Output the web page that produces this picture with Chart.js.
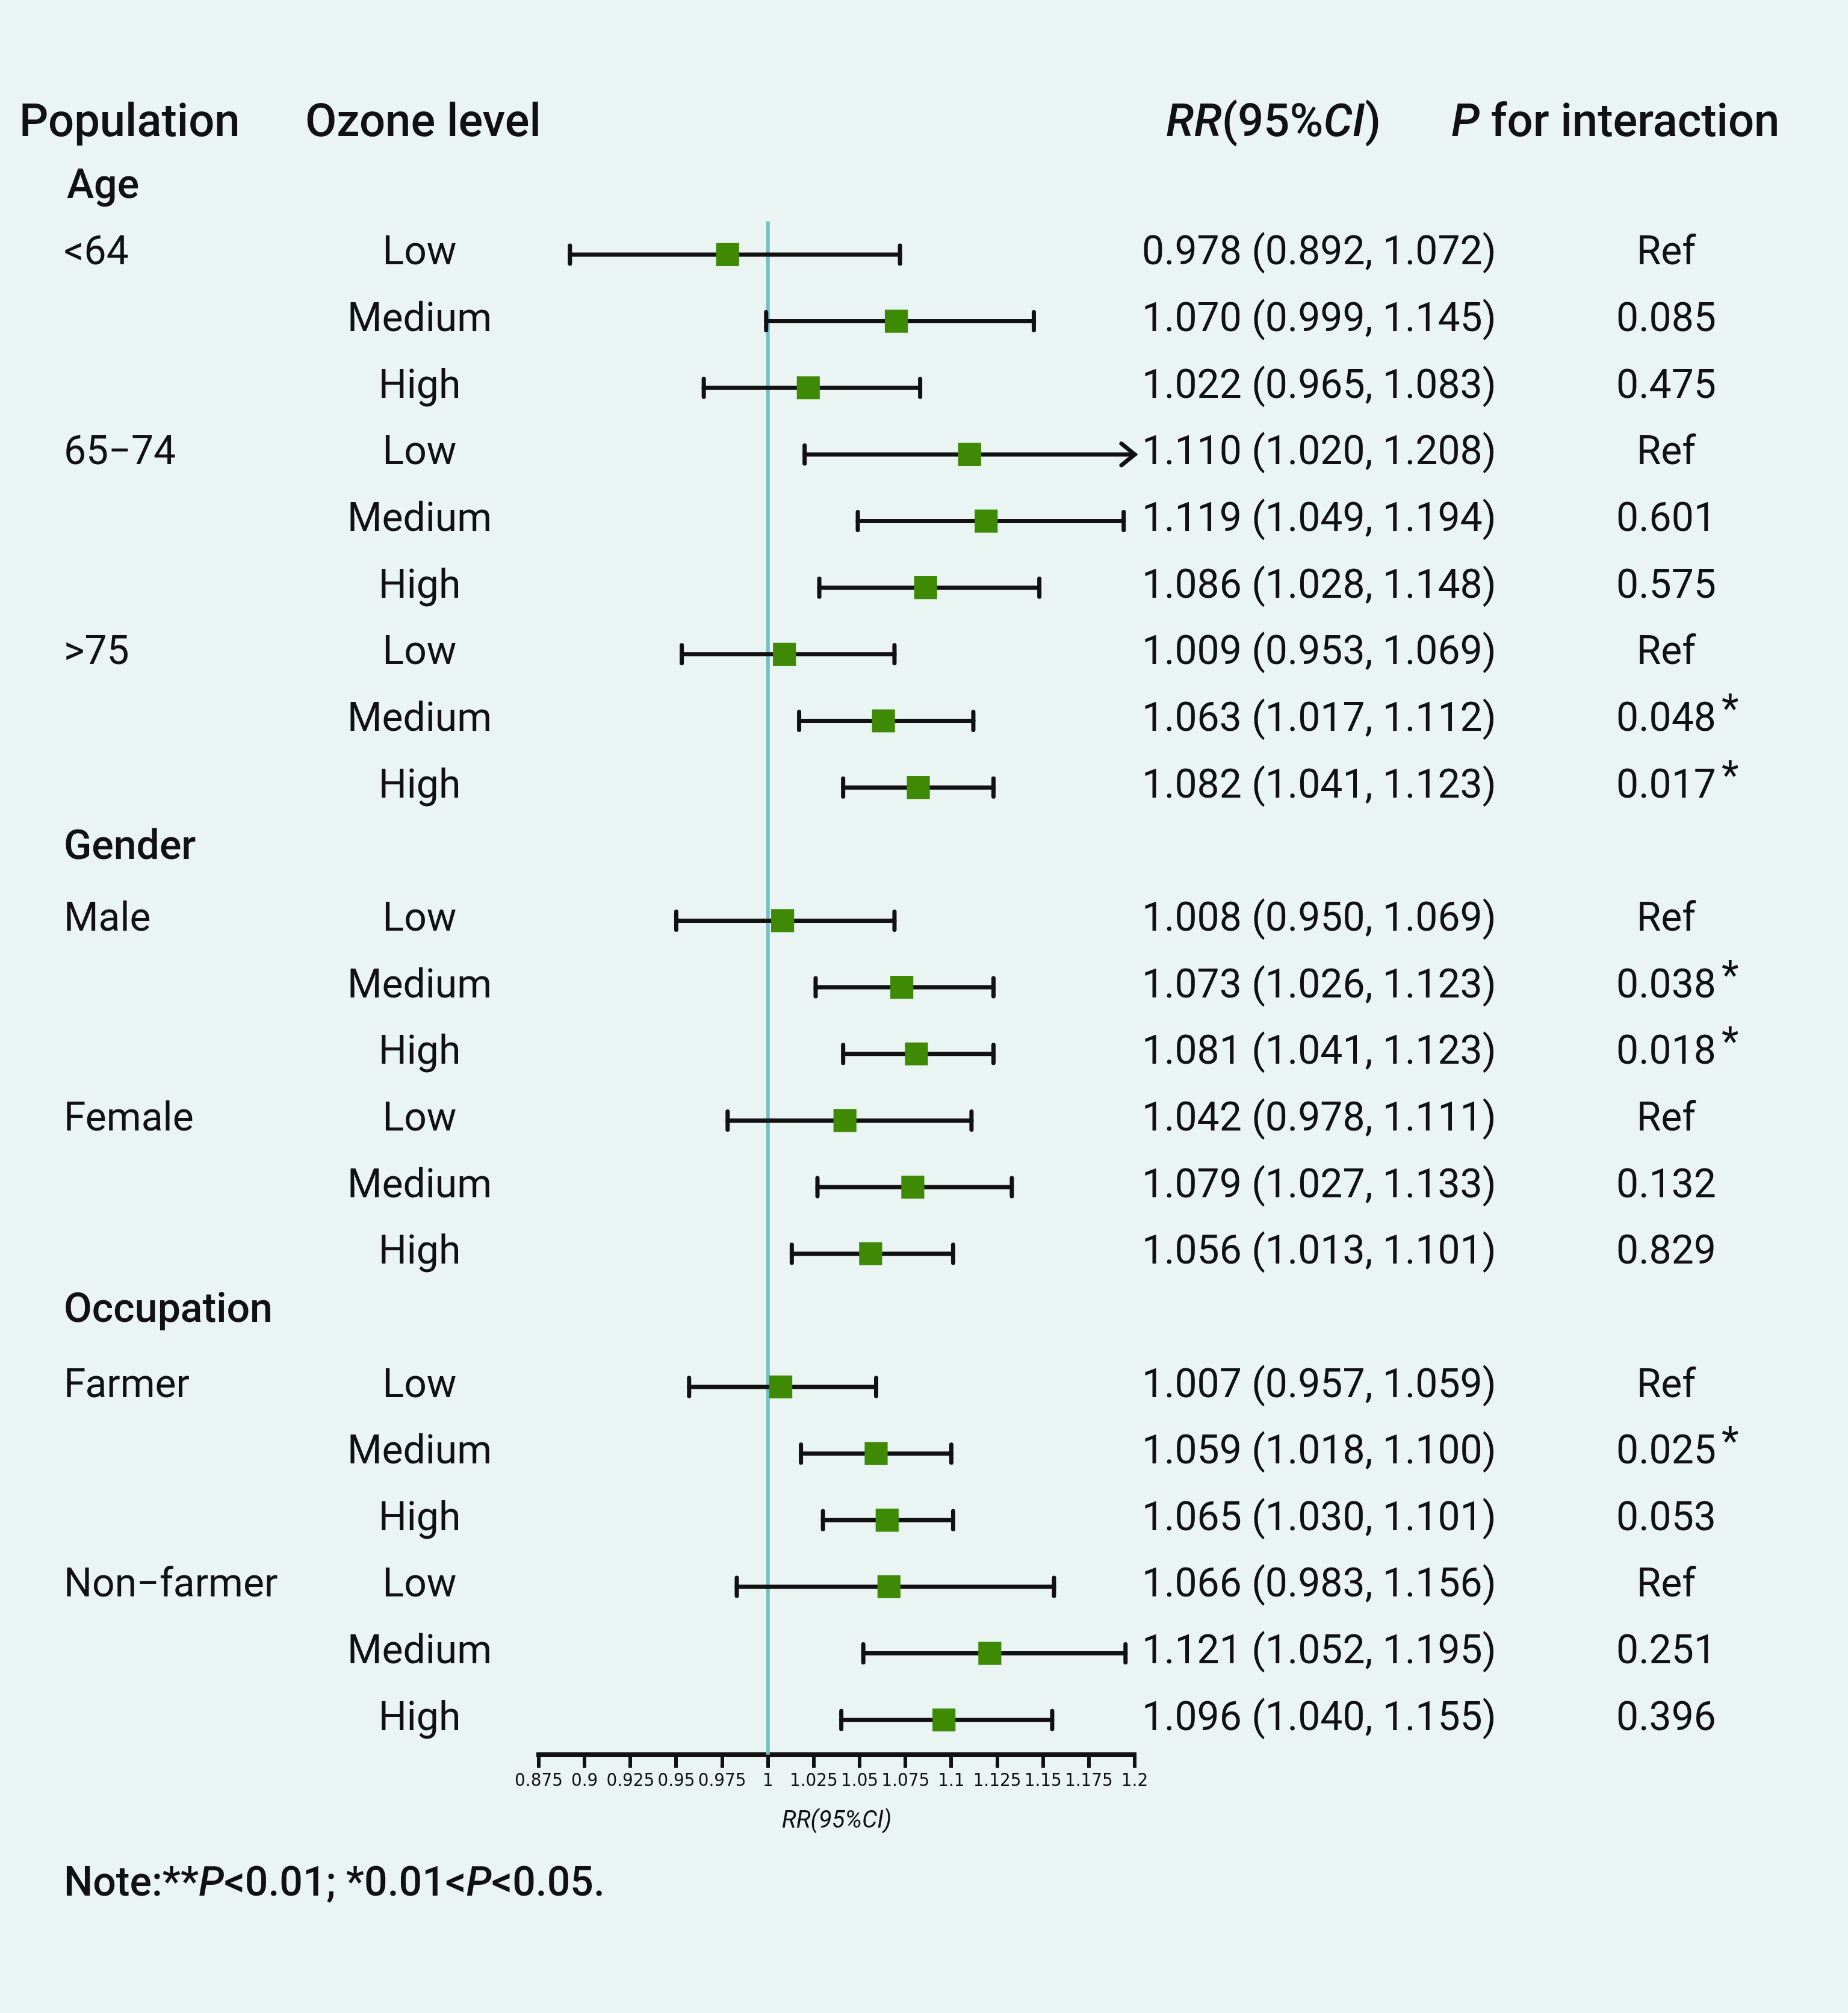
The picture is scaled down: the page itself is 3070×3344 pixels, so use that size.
<!DOCTYPE html>
<html><head><meta charset="utf-8">
<script src="https://cdn.jsdelivr.net/npm/chart.js@4"></script>
<style>html,body{margin:0;padding:0;background:#eaf4f2}canvas{display:block}</style>
</head><body><div style="width:3070px;height:3344px"><canvas id="c"></canvas></div>
<script>
const groups = ["<64","","","65\u221274","","",">75","","","Male","","","Female","","","Farmer","","","Non\u2212farmer","",""];
const levels = ["Low","Medium","High"];
const rr   = [0.978,1.070,1.022,1.110,1.119,1.086,1.009,1.063,1.082,1.008,1.073,1.081,1.042,1.079,1.056,1.007,1.059,1.065,1.066,1.121,1.096];
const low  = [0.892,0.999,0.965,1.020,1.049,1.028,0.953,1.017,1.041,0.950,1.026,1.041,0.978,1.027,1.013,0.957,1.018,1.030,0.983,1.052,1.040];
const high = [1.072,1.145,1.083,1.208,1.194,1.148,1.069,1.112,1.123,1.069,1.123,1.123,1.111,1.133,1.101,1.059,1.100,1.101,1.156,1.195,1.155];
const pInt = ["Ref","0.085","0.475","Ref","0.601","0.575","Ref","0.048","0.017","Ref","0.038","0.018","Ref","0.132","0.829","Ref","0.025","0.053","Ref","0.251","0.396"];
const star = [0,0,0,0,0,0,0,1,1,0,1,1,0,0,0,0,1,0,0,0,0];
const sections = [["Age",-1],["Gender",8.92],["Occupation",15.87]];
const rowIdx = [0,1,2,3,4,5,6,7,8,10,11,12,13,14,15,17,18,19,20,21,22];
const xTicks = [0.875,0.9,0.925,0.95,0.975,1,1.025,1.05,1.075,1.1,1.125,1.15,1.175,1.2];
const XMIN=0.875, XMAX=1.2, REF=1;
const fmt = v => v.toFixed(3);

const F = '"Roboto","Noto Sans",sans-serif';
const plugin = {
  id:'forest',
  beforeDraw(ch){const c=ch.ctx;c.save();c.fillStyle='#eaf4f2';c.fillRect(0,0,ch.width,ch.height);c.restore();},
  beforeDatasetsDraw(ch){
    const c=ch.ctx, xs=ch.scales.x, ys=ch.scales.y;
    c.save();
    c.strokeStyle='#72bfc5';c.lineWidth=6;
    const xr=xs.getPixelForValue(REF);
    c.beginPath();c.moveTo(xr,ys.getPixelForValue(-0.5));c.lineTo(xr,ch.chartArea.bottom);c.stroke();
    c.strokeStyle='#111';c.lineWidth=7;c.lineCap='round';
    rr.forEach((v,i)=>{
      const y=ys.getPixelForValue(rowIdx[i]);
      const x1=xs.getPixelForValue(low[i]);
      const over=high[i]>XMAX;
      const x2=xs.getPixelForValue(over?XMAX:high[i]);
      c.beginPath();c.moveTo(x1,y);c.lineTo(x2,y);c.stroke();
      c.beginPath();c.moveTo(x1,y-15);c.lineTo(x1,y+15);c.stroke();
      if(over){c.beginPath();c.moveTo(x2-22,y-18);c.lineTo(x2,y);c.lineTo(x2-22,y+18);c.stroke();}
      else{c.beginPath();c.moveTo(x2,y-15);c.lineTo(x2,y+15);c.stroke();}
    });
    c.restore();
  },
  afterDraw(ch){
    const c=ch.ctx, ys=ch.scales.y;
    c.save();c.fillStyle='#111';c.textBaseline='middle';
    const yh=ys.getPixelForValue(-1.95);
    c.font='500 76px '+F;c.textAlign='left';
    c.fillText('Population',32,yh);c.fillText('Ozone level',507,yh);
    let x=1937;
    const seg=[['italic 500 76px ','RR'],['500 76px ','(95%'],['italic 500 76px ','CI'],['500 76px ',')']];
    seg.forEach(s=>{c.font=s[0]+F;c.fillText(s[1],x,yh);x+=c.measureText(s[1]).width;});
    x=2411;c.font='italic 500 76px '+F;c.fillText('P',x,yh);x+=c.measureText('P ').width;
    c.font='500 76px '+F;c.fillText('for interaction',x,yh);
    c.font='500 68px '+F;
    sections.forEach(s=>c.fillText(s[0],s[0]==='Age'?111:106,ys.getPixelForValue(s[1])));
    c.font='66px '+F;
    rr.forEach((v,i)=>{
      const y=ys.getPixelForValue(rowIdx[i]);
      c.textAlign='left';
      if(groups[i])c.fillText(groups[i],106,y);
      c.textAlign='center';c.fillText(levels[i%3],697,y);
      c.textAlign='left';c.fillText(fmt(v)+' ('+fmt(low[i])+', '+fmt(high[i])+')',1897,y);
      c.textAlign='center';c.fillText(pInt[i],2768,y);
      if(star[i]){c.textAlign='left';c.fillText('*',2860,y-14);}
    });
    c.textAlign='left';
    let nx=106;const ny=3132;
    [['500 68px ','Note:**'],['italic 500 68px ','P'],['500 68px ','<0.01; *0.01<'],['italic 500 68px ','P'],['500 68px ','<0.05.']].forEach(s=>{c.font=s[0]+F;c.fillText(s[1],nx,ny);nx+=c.measureText(s[1]).width;});
    c.restore();
  }
};

new Chart(document.getElementById('c'),{
  type:'scatter',
  data:{datasets:[{data:rr.map((v,i)=>({x:v,y:rowIdx[i]})),pointStyle:'rect',pointRadius:27,pointHoverRadius:27,backgroundColor:'#3f8a05',borderColor:'#3f8a05',borderWidth:0}]},
  options:{
    responsive:true,maintainAspectRatio:false,animation:false,devicePixelRatio:1,
    layout:{padding:{left:895,right:1185,top:91,bottom:290}},
    plugins:{legend:{display:false},tooltip:{enabled:false}},
    scales:{
      x:{type:'linear',min:XMIN,max:XMAX,afterBuildTicks:s=>{s.ticks=xTicks.map(v=>({value:v}));},
        grid:{display:true,drawOnChartArea:false,drawTicks:true,tickLength:22,color:'#111',lineWidth:6},
        border:{display:true,color:'#111',width:8},
        ticks:{autoSkip:false,maxRotation:0,color:'#111',padding:4,font:{family:'"DejaVu Sans Condensed","Liberation Sans Narrow",sans-serif',size:31},callback:v=>String(+v.toFixed(3))},
        title:{display:true,text:'RR(95%CI)',color:'#111',font:{family:F,size:40,style:'italic'},padding:{top:20}}},
      y:{type:'linear',min:-3,max:22.52,reverse:true,display:false}
    }
  },
  plugins:[plugin]
});
</script></body></html>
